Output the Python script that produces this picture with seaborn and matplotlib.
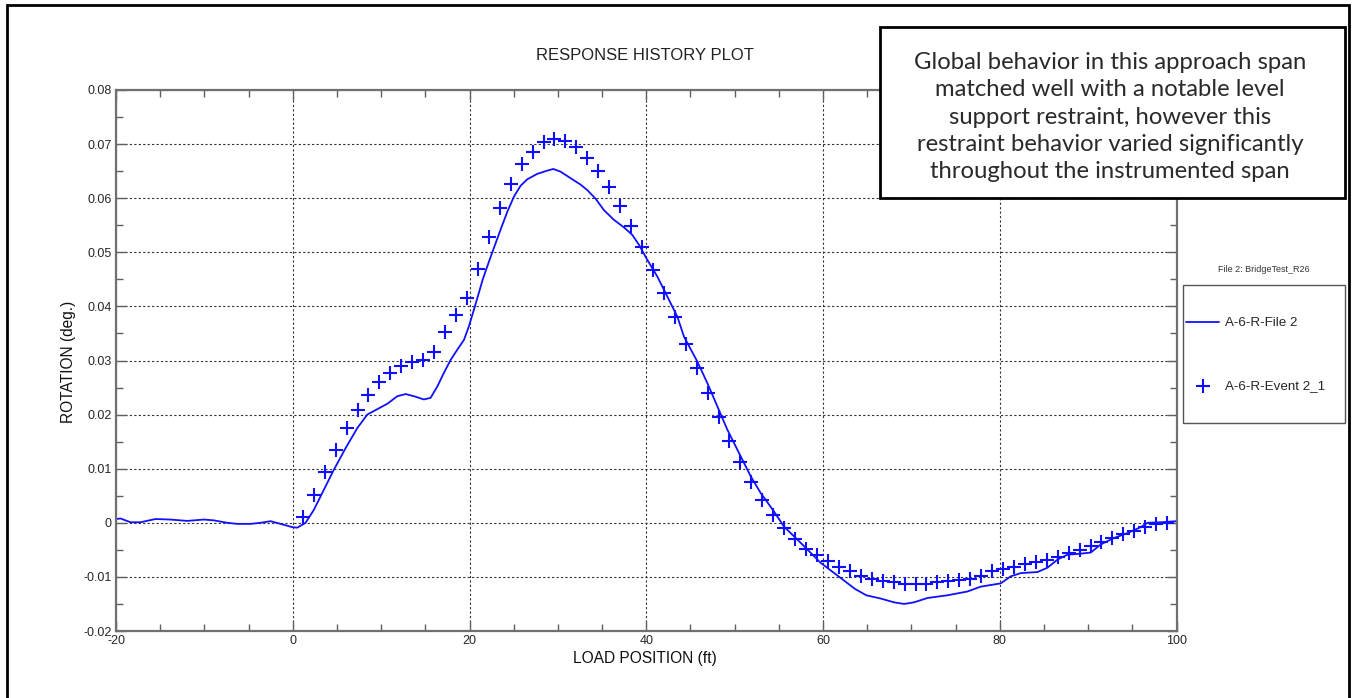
import numpy as np
import pandas as pd
import matplotlib
matplotlib.use("Agg")
import matplotlib.pyplot as plt
import seaborn as sns

# -------------------------------
# Data
# -------------------------------
# A-6-R-File 2 (solid line)
file_x = [-19.98, -19.49, -18.36, -17.23, -15.53, -13.83, -11.94, -10.06, -8.93, -7.41,
          -6.28, -4.78, -3.64, -2.51, -1.38, -0.06, 0.51, 1.45, 2.39, 3.52,
          4.65, 5.98, 7.30, 8.43, 9.56, 10.70, 11.83, 12.77, 13.71, 14.84,
          15.60, 16.36, 17.10, 17.86, 18.62, 19.37, 19.93, 20.50, 21.06, 21.48,
          22.01, 22.76, 23.52, 24.28, 25.03, 25.78, 26.54, 27.67, 28.81, 29.49,
          30.31, 31.44, 32.58, 33.33, 34.27, 35.21, 36.34, 37.48, 38.43, 39.17,
          40.12, 41.26, 42.39, 43.52, 44.27, 45.78, 46.92, 48.05, 49.18, 50.68,
          51.82, 52.95, 54.45, 55.59, 57.47, 59.74, 62.00, 63.60, 64.90, 66.53, 68.04,
          69.17, 70.30, 71.82, 74.08, 76.34, 77.85, 78.98, 80.11, 81.24, 82.38,
          84.27, 85.40, 86.53, 87.66, 89.17, 90.30, 91.43, 92.94, 94.45, 95.96,
          96.72, 98.22, 100.0]
file_y = [0.0007, 0.0008, 0.0001, 0.0001, 0.0007, 0.0006, 0.00035, 0.0006, 0.00045, 0.0,
          -0.0002, -0.0002, 0.0, 0.0003, -0.0002, -0.0008, -0.0009, 0.0, 0.0024, 0.0061,
          0.0098, 0.0138, 0.0175, 0.0200, 0.0210, 0.0220, 0.0234, 0.0238, 0.0234, 0.0228,
          0.0231, 0.0252, 0.0277, 0.0301, 0.0320, 0.0338, 0.0363, 0.0394, 0.0425, 0.0449,
          0.0474, 0.0508, 0.0542, 0.0575, 0.0603, 0.0623, 0.0635, 0.0645, 0.0651, 0.0654,
          0.0649, 0.0637, 0.0625, 0.0615, 0.0599, 0.0578, 0.0560, 0.0546, 0.0532, 0.0514,
          0.0486, 0.0455, 0.0418, 0.0381, 0.0344, 0.0298, 0.0258, 0.0215, 0.0172, 0.0123,
          0.0086, 0.0055, 0.0021, -0.0007, -0.0037, -0.0074, -0.0102, -0.0122, -0.0134, -0.0140, -0.0147,
          -0.0150, -0.0147, -0.0139, -0.0134, -0.0127, -0.0118, -0.0115, -0.0112, -0.0099, -0.0093,
          -0.0091, -0.0083, -0.0068, -0.0059, -0.0057, -0.0055, -0.0040, -0.0028, -0.0019, -0.0008,
          0.0, 0.0001, 0.0003]

# A-6-R-Event 2_1 (plus markers)
event_x = [1.14, 2.38, 3.62, 4.85, 6.09, 7.33, 8.57, 9.81, 11.04, 12.28,
           13.52, 14.76, 16.00, 17.23, 18.47, 19.71, 20.95, 22.19, 23.42, 24.66,
           25.90, 27.14, 28.38, 29.61, 30.85, 32.09, 33.33, 34.57, 35.80, 37.04,
           38.28, 39.52, 40.76, 41.99, 43.23, 44.47, 45.71, 46.95, 48.18, 49.42,
           50.66, 51.90, 53.14, 54.37, 55.61, 56.85, 58.09, 59.33, 60.56, 61.80,
           63.04, 64.28, 65.52, 66.75, 67.99, 69.23, 70.47, 71.71, 72.94, 74.18,
           75.42, 76.66, 77.90, 79.13, 80.37, 81.61, 82.85, 84.09, 85.32, 86.56,
           87.80, 89.04, 90.28, 91.51, 92.75, 93.99, 95.23, 96.47, 97.70, 98.94]
event_y = [0.0011, 0.0051, 0.0094, 0.0135, 0.0175, 0.0209, 0.0237, 0.0260, 0.0277, 0.0290,
           0.0298, 0.0301, 0.0316, 0.0352, 0.0385, 0.0415, 0.0469, 0.0528, 0.0582, 0.0626,
           0.0663, 0.0686, 0.0703, 0.0709, 0.0705, 0.0694, 0.0675, 0.0650, 0.0620, 0.0585,
           0.0549, 0.0510, 0.0468, 0.0425, 0.0380, 0.0331, 0.0286, 0.0240, 0.0196, 0.0152,
           0.0113, 0.0076, 0.0043, 0.0015, -0.0009, -0.0030, -0.0048, -0.0059, -0.0070, -0.0081,
           -0.0089, -0.0098, -0.0103, -0.0107, -0.0110, -0.0113, -0.0113, -0.0113, -0.0110, -0.0107,
           -0.0105, -0.0103, -0.0098, -0.0090, -0.0085, -0.0081, -0.0077, -0.0072, -0.0068, -0.0064,
           -0.0056, -0.0051, -0.0042, -0.0035, -0.0029, -0.0021, -0.0016, -0.0007, -0.0003, -0.0001]

x_ticks = [-20, 0, 20, 40, 60, 80, 100]
x_tick_labels = ["-20", "0", "20", "40", "60", "80", "100"]
y_ticks = [-0.02, -0.01, 0, 0.01, 0.02, 0.03, 0.04, 0.05, 0.06, 0.07, 0.08]
y_tick_labels = ["-0.02", "-0.01", "0", "0.01", "0.02", "0.03", "0.04", "0.05", "0.06", "0.07", "0.08"]

note = ("Global behavior in this approach span\n"
        "matched well with a notable level\n"
        "support restraint, however this\n"
        "restraint behavior varied significantly\n"
        "throughout the instrumented span")

df_file = pd.DataFrame({"pos": file_x, "rot": file_y})
df_event = pd.DataFrame({"pos": event_x, "rot": event_y})

# -------------------------------
# Figure setup
# -------------------------------
sns.set_theme(style="white")
plt.rcParams['font.family'] = ['Liberation Sans', 'DejaVu Sans']

W, H = 1352, 698
fig = plt.figure(figsize=(W / 100, H / 100), dpi=100)
ax = fig.add_axes([116 / W, 1 - 631 / H, (1176.5 - 116) / W, (631 - 90) / H])

blue = "#1010ff"
sns.lineplot(data=df_file, x="pos", y="rot", ax=ax, color=blue, linewidth=1.3,
             sort=False, estimator=None, label="A-6-R-File 2")
sns.scatterplot(data=df_event, x="pos", y="rot", ax=ax, marker="+", color=blue,
                s=100, linewidth=1.5, label="A-6-R-Event 2_1")

ax.set_xlim(-20, 100)
ax.set_ylim(-0.02, 0.08)
ax.set_xticks(x_ticks)
ax.set_xticklabels(x_tick_labels)
ax.set_yticks(y_ticks)
ax.set_yticklabels(y_tick_labels)
ax.set_xticks(np.arange(-20, 101, 5), minor=True)
ax.set_yticks(np.arange(-0.02, 0.0801, 0.005), minor=True)
ax.tick_params(which="both", direction="in", top=True, right=True,
               bottom=True, left=True, color="#606060", labelsize=9, pad=3)
ax.tick_params(which="major", length=7, width=1)
ax.tick_params(which="minor", length=5, width=1)
ax.grid(True, which="major", color="#333333", linestyle=(0, (2, 2)), linewidth=0.8)
for sp in ax.spines.values():
    sp.set_color("#707070")
    sp.set_linewidth(1.6)

ax.set_xlabel("")
ax.set_ylabel("")
fig.text(645 / W, 1 - 658 / H, "LOAD POSITION (ft)", ha="center", va="center", fontsize=11.2, color="#111111")
fig.text(69 / W, 1 - 362 / H, "ROTATION (deg.)", ha="center", va="center", rotation=90, fontsize=11.2, color="#111111")
fig.text(645 / W, 1 - 55 / H, "RESPONSE HISTORY PLOT", ha="center", va="center", fontsize=12, color="#222222")

# -------------------------------
# Legend (box drawn by hand)
# -------------------------------
handles, labels = ax.get_legend_handles_labels()
ax.legend_.remove()
leg = fig.legend(handles, labels, loc="upper left",
                 bbox_to_anchor=(1186 / W, 1 - 317 / H), frameon=False,
                 fontsize=9.6, handlelength=2.5, handletextpad=0.4,
                 labelspacing=3.8, borderpad=0, borderaxespad=0)
fig.add_artist(plt.Rectangle((1183 / W, 1 - 423 / H), (1345 - 1183) / W, (423 - 285) / H,
                             transform=fig.transFigure, fill=False, edgecolor="#555555", linewidth=1))
fig.text(1264 / W, 1 - 270 / H, "File 2: BridgeTest_R26", ha="center", va="center",
         fontsize=6.5, color="#333333")

# -------------------------------
# Note box on top right
# -------------------------------
fig.add_artist(plt.Rectangle((880 / W, 1 - 198 / H), (1345 - 880) / W, (198 - 27) / H,
                             transform=fig.transFigure, facecolor="white", edgecolor="black",
                             linewidth=2, zorder=10))
fig.text(1110 / W, 1 - 117 / H, note, ha="center", va="center", fontsize=17.2,
         family=["Lato", "DejaVu Sans"], color="#2a2a2a",
         linespacing=1.36, zorder=11)

# outer page frame
fig.add_artist(plt.Rectangle((7 / W, -0.05), (1349 - 7) / W, 1.05 - 5.5 / H,
                             transform=fig.transFigure, fill=False, edgecolor="black",
                             linewidth=2, zorder=12))

fig.savefig("out.png", dpi=100)
